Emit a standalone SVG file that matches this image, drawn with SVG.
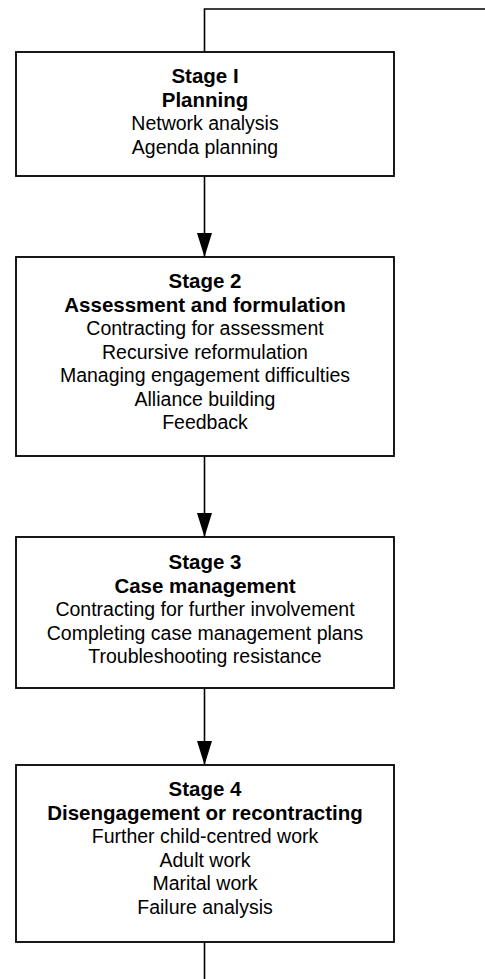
<svg xmlns="http://www.w3.org/2000/svg" width="485" height="979" viewBox="0 0 485 979">
<defs>
<style>
.box{fill:#fff;stroke:#000;stroke-width:1.8}
.ln{fill:none;stroke:#000;stroke-width:1.6}
.t{font-family:"Liberation Sans",Arial,sans-serif;font-size:19.5px;text-anchor:middle;fill:#000}
.b{font-weight:bold;font-size:20.5px}
</style>
<marker id="ah" markerUnits="userSpaceOnUse" markerWidth="24" markerHeight="15" refX="24" refY="7.5" viewBox="0 0 24 15" orient="auto">
<path d="M0,0 L24,7.5 L0,15 Z" fill="#000"/>
</marker>
</defs>
<rect width="485" height="979" fill="#fff"/>
<g id="connectors">
<polyline class="ln" points="485,9 204.5,9 204.5,52"/>
<line class="ln" x1="204.5" y1="176" x2="204.5" y2="257" marker-end="url(#ah)"/>
<line class="ln" x1="204.5" y1="456" x2="204.5" y2="537" marker-end="url(#ah)"/>
<line class="ln" x1="204.5" y1="688" x2="204.5" y2="765" marker-end="url(#ah)"/>
<line class="ln" x1="204.5" y1="942" x2="204.5" y2="979"/>
</g>
<g id="stage1">
<rect class="box" x="16" y="52" width="378" height="124"/>
<text class="t b" x="205" y="83">Stage I</text>
<text class="t b" x="205" y="106.5">Planning</text>
<text class="t" x="205" y="130">Network analysis</text>
<text class="t" x="205" y="153.5">Agenda planning</text>
</g>
<g id="stage2">
<rect class="box" x="16" y="257" width="378" height="199"/>
<text class="t b" x="205" y="288">Stage 2</text>
<text class="t b" x="205" y="311.5">Assessment and formulation</text>
<text class="t" x="205" y="335">Contracting for assessment</text>
<text class="t" x="205" y="358.5">Recursive reformulation</text>
<text class="t" x="205" y="382">Managing engagement difficulties</text>
<text class="t" x="205" y="405.5">Alliance building</text>
<text class="t" x="205" y="429">Feedback</text>
</g>
<g id="stage3">
<rect class="box" x="16" y="537" width="378" height="151"/>
<text class="t b" x="205" y="569">Stage 3</text>
<text class="t b" x="205" y="592.5">Case management</text>
<text class="t" x="205" y="616">Contracting for further involvement</text>
<text class="t" x="205" y="639.5">Completing case management plans</text>
<text class="t" x="205" y="663">Troubleshooting resistance</text>
</g>
<g id="stage4">
<rect class="box" x="16" y="765" width="378" height="177"/>
<text class="t b" x="205" y="796">Stage 4</text>
<text class="t b" x="205" y="819.5">Disengagement or recontracting</text>
<text class="t" x="205" y="843">Further child-centred work</text>
<text class="t" x="205" y="866.5">Adult work</text>
<text class="t" x="205" y="890">Marital work</text>
<text class="t" x="205" y="913.5">Failure analysis</text>
</g>
</svg>
